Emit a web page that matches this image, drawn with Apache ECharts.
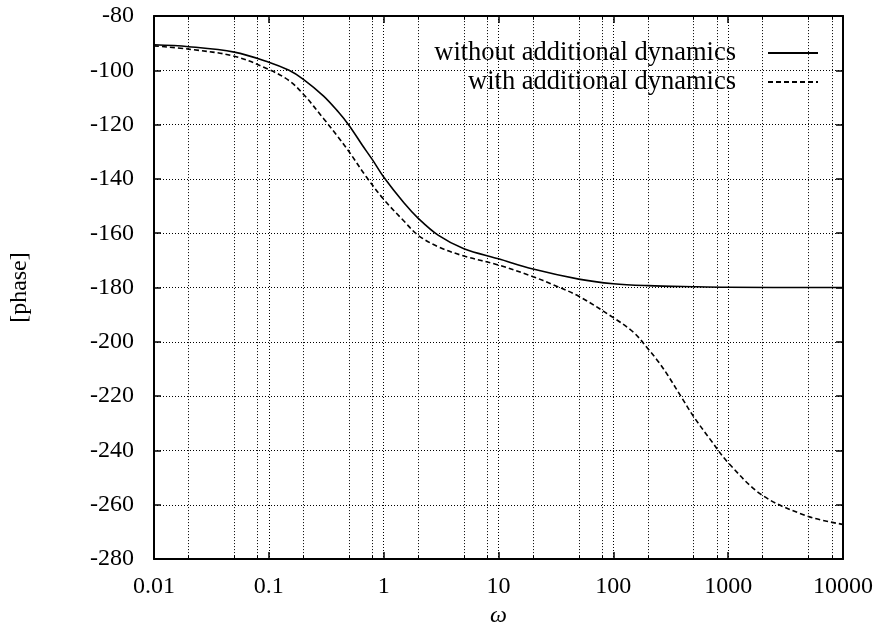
<!DOCTYPE html>
<html><head><meta charset="utf-8">
<script src="https://cdn.jsdelivr.net/npm/echarts@6/dist/echarts.min.js"></script>
<style>html,body{margin:0;padding:0;background:#fff}#c{width:880px;height:633px}</style>
</head><body><div id="c"></div><script>
const omegaSolid = [0.01,0.02,0.05,0.1,0.15,0.2,0.3,0.4,0.5,0.65,0.8,1,1.5,2,3,5,10,20,50,100,200,500,1000,10000];
const phaseSolid = [-90.6,-91.3,-93.3,-97,-100,-103.3,-109.5,-115.2,-120.3,-127.5,-133,-139.3,-148.8,-154.5,-160.8,-165.7,-169.4,-173.2,-176.9,-178.6,-179.3,-179.7,-179.9,-180];
const omegaDashed = [0.01,0.02,0.05,0.1,0.15,0.2,0.3,0.4,0.5,0.7,1,1.5,2,3,5,10,20,30,50,100,150,200,250,300,400,500,700,1000,2000,5000,10000];
const phaseDashed = [-91,-92.2,-94.8,-99.7,-103.8,-108.8,-117.8,-124.5,-130,-139,-147.5,-155.5,-160.8,-165,-168.4,-171.7,-176,-179,-183.2,-191.1,-196.5,-202.5,-207.6,-212.5,-221,-227.5,-236,-244.5,-256.6,-264.3,-267.2];
const gridOmega = [0.02,0.05,0.08,0.2,0.5,0.8,2,5,8,20,50,80,200,500,800,2000,5000,8000];
const seriesNames = ['without additional dynamics','with additional dynamics'];
const yTicks = {min:-280, max:-80, step:20};
const xRange = {min:0.01, max:10000};

const FONT = 'Liberation Serif';
const chart = echarts.init(document.getElementById('c'));
const fmt = v => String(+(+v).toPrecision(6));
const dotted = {type:[1,2], color:'#000', width:1};
const legendBase = {right:61, align:'right', orient:'vertical', itemWidth:50, itemHeight:14, padding:0, selectedMode:false,
  itemStyle:{color:'transparent', borderColor:'transparent', borderWidth:0, opacity:0},
  textStyle:{fontFamily:FONT, fontSize:26.5, color:'#000', padding:[0,27,0,0], lineHeight:28}};
chart.setOption({
  animation:false,
  backgroundColor:'#fff',
  grid:{left:152, right:37, top:16, bottom:66},
  legend:[
    Object.assign({data:[seriesNames[0]], top:39}, legendBase),
    Object.assign({data:[seriesNames[1]], top:68}, legendBase)
  ],
  xAxis:[
    {type:'log', logBase:10, min:xRange.min, max:xRange.max, position:'bottom',
     name:'ω', nameLocation:'middle', nameGap:44, nameTextStyle:{fontFamily:FONT, fontSize:24, fontStyle:'italic', color:'#000'},
     axisLine:{show:true, lineStyle:{color:'#000', width:2}},
     axisTick:{show:true, inside:true, length:7, lineStyle:{color:'#000', width:1.5}},
     axisLabel:{fontFamily:FONT, fontSize:24, color:'#000', margin:16, formatter:fmt},
     splitLine:{show:true, lineStyle:dotted}, minorTick:{show:false}},
    {type:'log', logBase:10, min:xRange.min, max:xRange.max, position:'top',
     axisLine:{show:true, lineStyle:{color:'#000', width:2}},
     axisTick:{show:true, inside:true, length:7, lineStyle:{color:'#000', width:1.5}},
     axisLabel:{show:false}, splitLine:{show:false}}
  ],
  yAxis:[
    {type:'value', min:yTicks.min, max:yTicks.max, interval:yTicks.step, position:'left',
     name:'[phase]', nameLocation:'middle', nameGap:122, nameRotate:90, nameTextStyle:{fontFamily:FONT, fontSize:24, color:'#000'},
     axisLine:{show:true, lineStyle:{color:'#000', width:2}},
     axisTick:{show:true, inside:true, length:7, lineStyle:{color:'#000', width:1.5}},
     axisLabel:{fontFamily:FONT, fontSize:24, color:'#000', margin:20},
     splitLine:{show:true, lineStyle:dotted}},
    {type:'value', min:yTicks.min, max:yTicks.max, interval:yTicks.step, position:'right',
     axisLine:{show:true, lineStyle:{color:'#000', width:2}},
     axisTick:{show:true, inside:true, length:7, lineStyle:{color:'#000', width:1.5}},
     axisLabel:{show:false}, splitLine:{show:false}}
  ],
  series:[
    {name:seriesNames[0], type:'line', xAxisIndex:0, yAxisIndex:0,
     data:omegaSolid.map((w,i)=>[w, phaseSolid[i]]),
     showSymbol:false, symbol:'none', smooth:0.35,
     lineStyle:{color:'#000', width:1.6}, itemStyle:{color:'#000'}, z:5,
     markLine:{silent:true, symbol:['none','none'], label:{show:false}, animation:false,
       lineStyle:{type:'solid', color:'#000', width:1},
       data: gridOmega.flatMap(w=>[[{coord:[w,yTicks.min]},{coord:[w,yTicks.min+1.4]}],[{coord:[w,yTicks.max]},{coord:[w,yTicks.max-1.4]}]])}},
    {name:seriesNames[1], type:'line', xAxisIndex:0, yAxisIndex:0,
     data:omegaDashed.map((w,i)=>[w, phaseDashed[i]]),
     showSymbol:false, symbol:'none', smooth:0.35,
     lineStyle:{color:'#000', width:1.6, type:[5,3]}, itemStyle:{color:'#000'}, z:5,
     markLine:{silent:true, symbol:['none','none'], label:{show:false}, animation:false,
       lineStyle:dotted,
       data: gridOmega.map(w=>({xAxis:w}))}}
  ]
});
</script></body></html>
